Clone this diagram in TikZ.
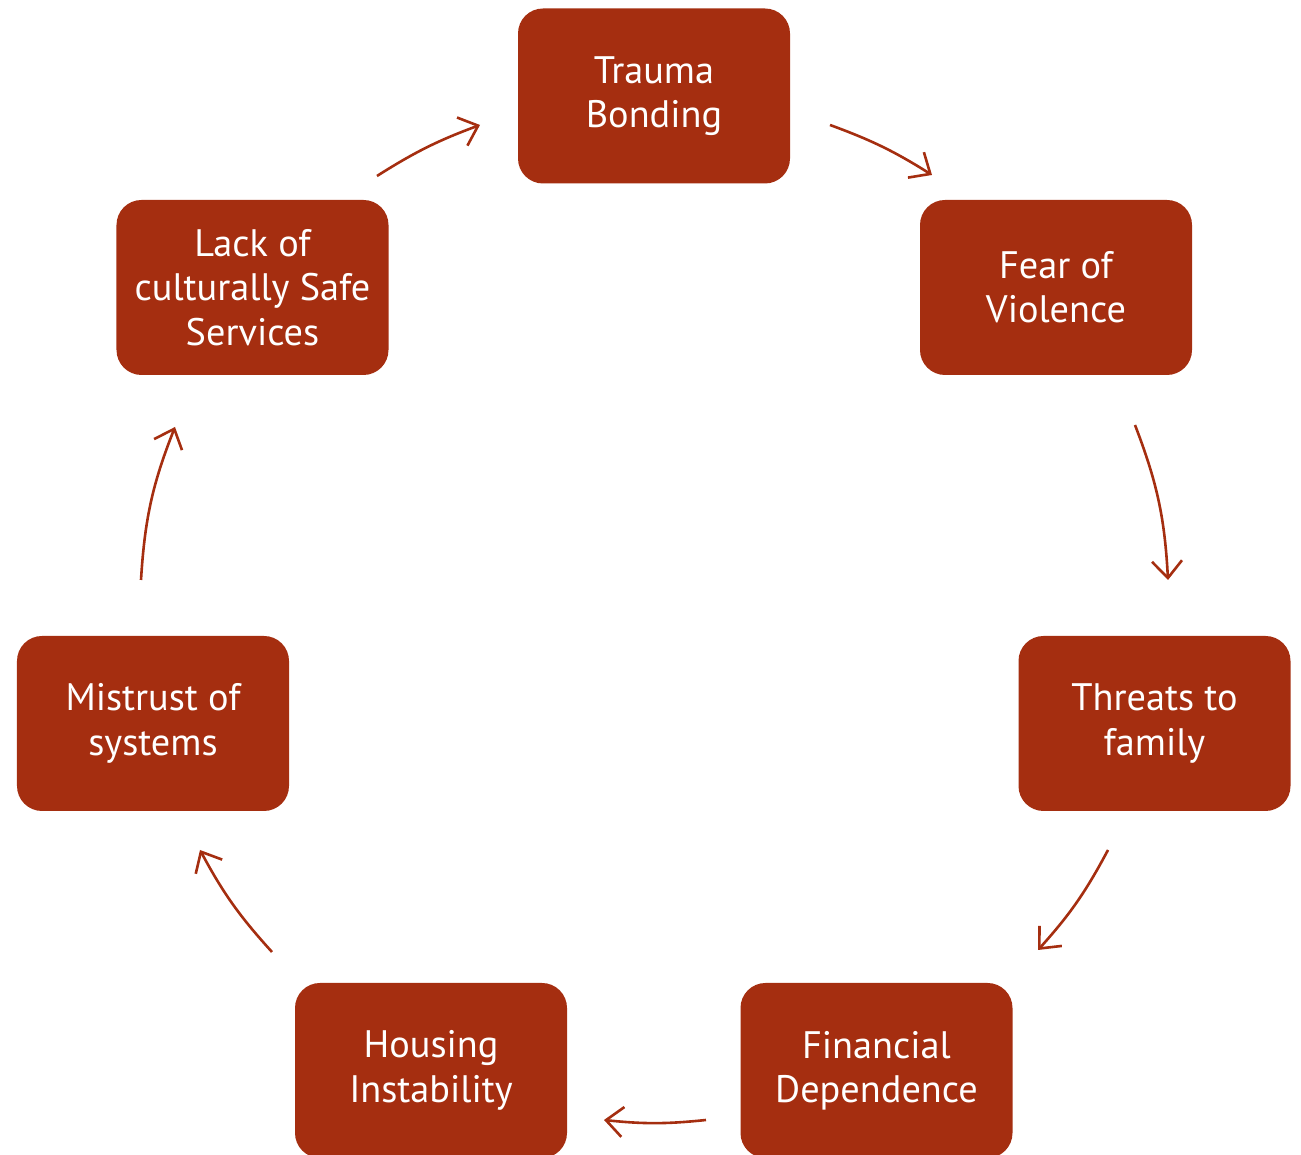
\documentclass[tikz,border=0pt]{standalone}
\usepackage{fontspec}
\setmainfont{PT Sans}
\usepackage{xcolor}
\usetikzlibrary{arrows.meta}
\definecolor{boxred}{RGB}{165,46,16}
\tikzset{
  cyclebox/.style={fill=boxred, draw=none, rounded corners=0.25cm,
    minimum width=2.72cm, minimum height=1.75cm, text=white, align=center,
    font=\fontsize{10.9}{12.6}\selectfont},
  cyclearrow/.style={draw=boxred, line width=0.026cm,
    -{Straight Barb[length=0.17cm, width=0.3cm]}}
}
\begin{document}
\begin{tikzpicture}
            \useasboundingbox (0,0) rectangle (13.01,11.55);

            % Marking the boxes
            \node [cyclebox] (bonding) at (6.540000,10.590000) {Trauma\\Bonding};
            \node [cyclebox] (fear) at (10.560000,8.675000) {Fear of\\Violence};
            \node [cyclebox] (threats) at (11.545000,4.315000) {Threats to\\family};
            \node [cyclebox] (financial) at (8.765000,0.845000) {Financial\\Dependence};
            \node [cyclebox] (housing) at (4.310000,0.845000) {Housing\\Instability};
            \node [cyclebox] (mistrust) at (1.530000,4.315000) {Mistrust of\\systems};
            \node [cyclebox] (lack) at (2.525000,8.675000) {Lack of\\culturally Safe\\Services};

            % Marking arrow ends
            \coordinate (a1) at (8.300000,10.300000);
            \coordinate (b1) at (9.320000,9.800000);
            \coordinate (a2) at (11.350000,7.300000);
            \coordinate (b2) at (11.680000,5.750000);
            \coordinate (a3) at (11.080000,3.050000);
            \coordinate (b3) at (10.380000,2.050000);
            \coordinate (a4) at (7.060000,0.350000);
            \coordinate (b4) at (6.040000,0.350000);
            \coordinate (a5) at (2.720000,2.030000);
            \coordinate (b5) at (2.000000,3.050000);
            \coordinate (a6) at (1.410000,5.750000);
            \coordinate (b6) at (1.750000,7.280000);
            \coordinate (a7) at (3.770000,9.790000);
            \coordinate (b7) at (4.800000,10.300000);

            % Drawing the cycle arrows
            \foreach \i/\b in {1/6, 2/9, 3/7, 4/6, 5/7, 6/9, 7/6}
              \draw [cyclearrow] (a\i) to [bend left=\b] (b\i);%
        \end{tikzpicture}
\end{document}
